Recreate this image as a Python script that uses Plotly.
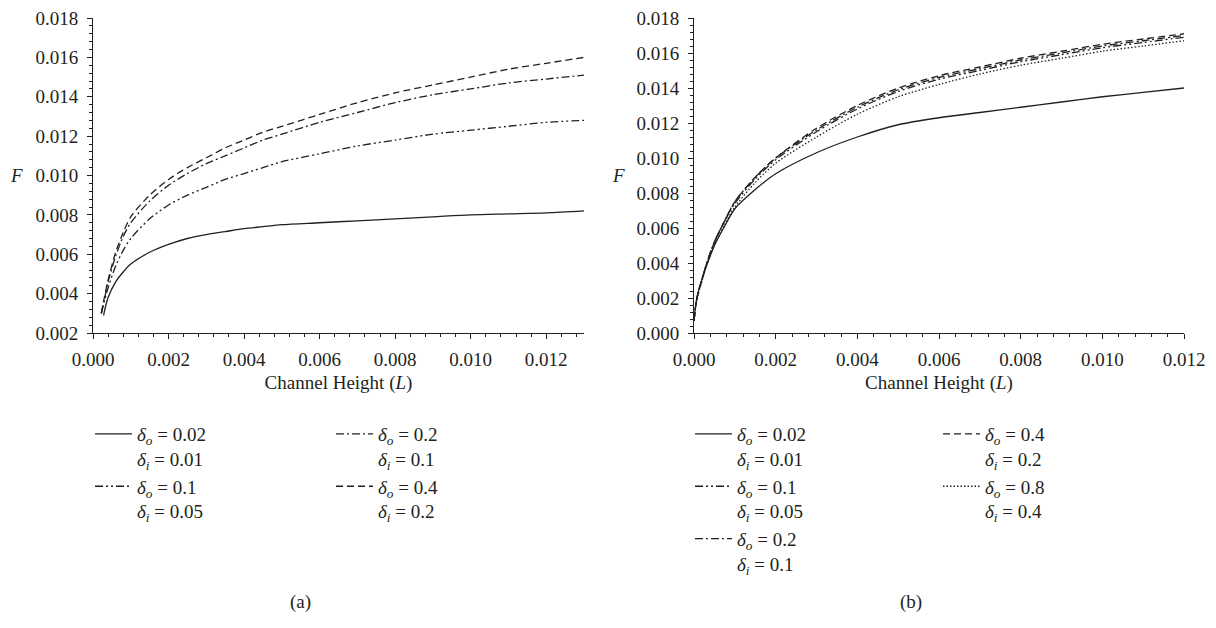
import plotly.graph_objects as go

# ---------------- data: panel (a) ----------------
xa = [0.00022, 0.0003, 0.0004, 0.0006, 0.0008, 0.001, 0.0015, 0.002, 0.0025, 0.003, 0.0035,
      0.004, 0.0045, 0.005, 0.006, 0.007, 0.008, 0.009, 0.010, 0.011, 0.012, 0.013]
a_dash_04 = [0.0030, 0.0038, 0.0047, 0.0061, 0.0071, 0.0079, 0.0090, 0.0098, 0.0104, 0.0109, 0.0114,
             0.0118, 0.0122, 0.0125, 0.0131, 0.0137, 0.0142, 0.0146, 0.0150, 0.0154, 0.0157, 0.0160]
a_dashdot_02 = [0.0030, 0.0037, 0.0046, 0.0059, 0.0069, 0.0076, 0.0087, 0.0095, 0.0101, 0.0106, 0.0110,
                0.0114, 0.0118, 0.0121, 0.0127, 0.0132, 0.0137, 0.0141, 0.0144, 0.0147, 0.0149, 0.0151]
a_dashdotdot_01 = [0.0030, 0.0036, 0.0043, 0.0054, 0.0062, 0.0068, 0.0078, 0.0085, 0.0090, 0.0094, 0.0098,
                   0.0101, 0.0104, 0.0107, 0.0111, 0.0115, 0.0118, 0.0121, 0.0123, 0.0125, 0.0127, 0.0128]
xa_solid = [0.00028, 0.0004, 0.0006, 0.0008, 0.001, 0.0015, 0.002, 0.0025, 0.003, 0.0035, 0.004,
            0.0045, 0.005, 0.006, 0.007, 0.008, 0.009, 0.010, 0.011, 0.012, 0.013]
a_solid_002 = [0.0029, 0.0038, 0.0046, 0.0051, 0.0055, 0.0061, 0.0065, 0.0068, 0.0070, 0.00715, 0.0073,
               0.0074, 0.0075, 0.0076, 0.0077, 0.0078, 0.0079, 0.0080, 0.00805, 0.0081, 0.0082]

# ---------------- data: panel (b) ----------------
xb = [0, 0.00005, 0.0001, 0.0002, 0.0003, 0.0005, 0.00075, 0.001, 0.0015, 0.002, 0.003,
      0.004, 0.005, 0.006, 0.007, 0.008, 0.009, 0.010, 0.011, 0.012]
b_solid_002 = [0.0007, 0.0017, 0.0023, 0.0031, 0.0038, 0.0050, 0.0061, 0.0071, 0.0082, 0.0091, 0.0103,
               0.0112, 0.0119, 0.0123, 0.0126, 0.0129, 0.0132, 0.0135, 0.01375, 0.0140]
b_dashdotdot_01 = [0.0007, 0.0017, 0.0023, 0.0031, 0.0039, 0.0052, 0.0064, 0.0074, 0.0088, 0.0099, 0.0115,
                   0.0128, 0.0138, 0.0145, 0.0150, 0.0155, 0.0159, 0.0163, 0.0166, 0.0169]
b_dashdot_02 = [0.0007, 0.0017, 0.0023, 0.0031, 0.0039, 0.0052, 0.0064, 0.0075, 0.0089, 0.0100, 0.0116,
                0.0129, 0.0139, 0.0146, 0.0151, 0.0156, 0.0160, 0.0164, 0.0167, 0.0170]
b_dash_04 = [0.0007, 0.0017, 0.0023, 0.0031, 0.0039, 0.0052, 0.0064, 0.0075, 0.0089, 0.0100, 0.0117,
             0.0130, 0.0140, 0.0147, 0.0152, 0.0157, 0.0161, 0.0165, 0.0168, 0.0171]
b_dot_08 = [0.0007, 0.0016, 0.0022, 0.0030, 0.0038, 0.0050, 0.0062, 0.0072, 0.0086, 0.0097, 0.0112,
            0.0125, 0.0135, 0.0142, 0.0148, 0.0153, 0.0157, 0.0161, 0.0164, 0.0167]

# legend labels
def lab(do, di):
    return ("<i>δ</i><sub><i>o</i></sub> = " + do + "<br>"
            "<i>δ</i><sub><i>i</i></sub> = " + di)

INK = "#231f20"
FONT = "Liberation Serif"
FS = 19
W = 1216
H = 628

DASH = "7px,4px"
DASHDOT = "8px,3px,2px,3px"
DASHDOTDOT = "8px,3px,2px,3px,2px,3px"
DOT = "1.5px,2px"

fig = go.Figure()

def add(x, y, name, dash, xaxis, yaxis, legend):
    fig.add_trace(go.Scatter(
        x=x, y=y, mode="lines", name=name,
        line=dict(color=INK, width=1.3, dash=dash, shape="spline", smoothing=0.8),
        xaxis=xaxis, yaxis=yaxis, legend=legend, hoverinfo="skip"))

# panel (a)
add(xa_solid, a_solid_002, lab("0.02", "0.01"), "solid", "x", "y", "legend")
add(xa, a_dashdotdot_01, lab("0.1", "0.05"), DASHDOTDOT, "x", "y", "legend")
add(xa, a_dashdot_02, lab("0.2", "0.1"), DASHDOT, "x", "y", "legend2")
add(xa, a_dash_04, lab("0.4", "0.2"), DASH, "x", "y", "legend2")

# panel (b)
add(xb, b_solid_002, lab("0.02", "0.01"), "solid", "x2", "y2", "legend3")
add(xb, b_dashdotdot_01, lab("0.1", "0.05"), DASHDOTDOT, "x2", "y2", "legend3")
add(xb, b_dashdot_02, lab("0.2", "0.1"), DASHDOT, "x2", "y2", "legend3")
add(xb, b_dash_04, lab("0.4", "0.2"), DASH, "x2", "y2", "legend4")
add(xb, b_dot_08, lab("0.8", "0.4"), DOT, "x2", "y2", "legend4")

tickfont = dict(family=FONT, size=FS, color=INK)

def xax(domain, rng, anchor):
    return dict(domain=domain, range=rng, anchor=anchor, tick0=0, dtick=0.002,
                tickformat=".3f", showline=True, linecolor=INK, linewidth=1,
                ticks="outside", ticklen=5, tickcolor=INK, tickwidth=1,
                minor=dict(dtick=0.0004, ticks="outside", ticklen=3, tickcolor=INK, tickwidth=1),
                showgrid=False, zeroline=False, tickfont=tickfont, automargin=False,
                ticklabelstandoff=4,
                title=dict(text="Channel Height (<i>L</i>)", font=dict(family=FONT, size=FS, color=INK),
                           standoff=6))

def yax(domain, rng, anchor):
    return dict(domain=domain, range=rng, anchor=anchor, tick0=0, dtick=0.002,
                tickformat=".3f", showline=True, linecolor=INK, linewidth=1,
                ticks="outside", ticklen=5, tickcolor=INK, tickwidth=1,
                minor=dict(dtick=0.0004, ticks="outside", ticklen=3, tickcolor=INK, tickwidth=1),
                showgrid=False, zeroline=False, tickfont=tickfont, automargin=False,
                ticklabelstandoff=5)

ydom = [(H - 333) / H, (H - 18) / H]

legend_common = dict(orientation="v", xanchor="left", yanchor="top", valign="top",
                     font=dict(family=FONT, size=FS, color=INK), bgcolor="rgba(0,0,0,0)",
                     itemwidth=37, itemclick=False, itemdoubleclick=False)
LEG_TOP = 1 - 415 / H

fig.update_layout(
    width=W, height=H,
    margin=dict(l=0, r=0, t=0, b=0, autoexpand=False),
    paper_bgcolor="white", plot_bgcolor="white",
    xaxis=xax([93 / W, 584 / W], [0, 0.013], "y"),
    yaxis=yax(ydom, [0.002, 0.018], "x"),
    xaxis2=xax([694 / W, 1184 / W], [0, 0.012], "y2"),
    yaxis2=yax(ydom, [0, 0.018], "x2"),
    legend=dict(legend_common, x=90 / W, y=LEG_TOP),
    legend2=dict(legend_common, x=331 / W, y=LEG_TOP),
    legend3=dict(legend_common, x=690 / W, y=LEG_TOP),
    legend4=dict(legend_common, x=938 / W, y=LEG_TOP),
    annotations=[
        dict(text="<i>F</i>", xref="paper", yref="y", x=16 / W, y=0.010, showarrow=False,
             xanchor="center", yanchor="middle",
             font=dict(family=FONT, size=FS, color=INK)),
        dict(text="<i>F</i>", xref="paper", yref="y2", x=618 / W, y=0.009, showarrow=False,
             xanchor="center", yanchor="middle",
             font=dict(family=FONT, size=FS, color=INK)),
        dict(text="(a)", xref="paper", yref="paper", x=300 / W, y=1 - 602 / H, showarrow=False,
             xanchor="center", yanchor="middle",
             font=dict(family=FONT, size=FS, color=INK)),
        dict(text="(b)", xref="paper", yref="paper", x=911 / W, y=1 - 602 / H, showarrow=False,
             xanchor="center", yanchor="middle",
             font=dict(family=FONT, size=FS, color=INK)),
    ],
    showlegend=True,
)

fig.write_html("out.html",
               config={"displayModeBar": False, "staticPlot": True},
               post_script="document.body.style.margin='0';document.body.style.overflow='hidden';")
